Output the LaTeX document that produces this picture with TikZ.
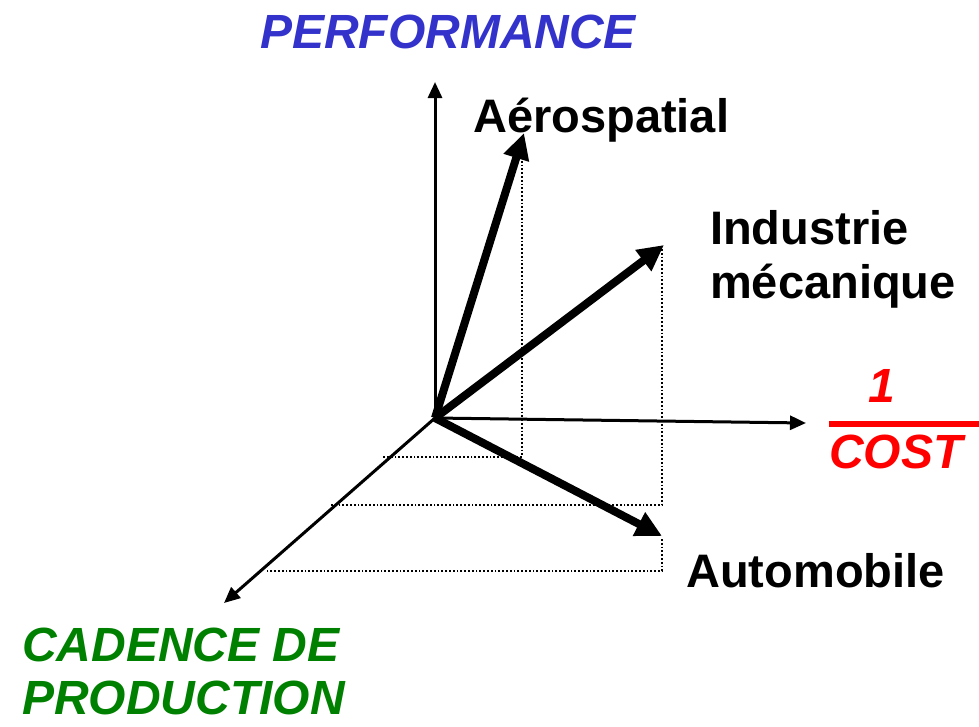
\documentclass[tikz,border=0pt]{standalone}
\usepackage{fontspec}
\setmainfont{Liberation Sans}
\usetikzlibrary{arrows.meta}
\definecolor{perfblue}{RGB}{51,51,204}
\definecolor{cadgreen}{RGB}{0,128,0}
\begin{document}
\begin{tikzpicture}[x=1pt,y=-1pt,
        axis/.style={line width=3pt,-{Triangle[length=16pt,width=14pt]}},
        sector/.style={line width=8pt,-{Triangle[length=26pt,width=25pt]}},
        proj/.style={line width=1.8pt,dash pattern=on 1.8pt off 2pt},
        lbl/.style={inner sep=0pt,font=\fontsize{47}{54}\selectfont\bfseries},
        axlbl/.style={lbl,font=\fontsize{48}{53}\selectfont\bfseries\itshape}]
        \useasboundingbox (0,0) rectangle (979,726);
        \coordinate (O) at (435,418);
        \coordinate (perf) at (435,82);
        \coordinate (cost) at (806,423);
        \coordinate (cad) at (224,603);
        \coordinate (aero) at (524,133);
        \coordinate (meca) at (664,245);
        \coordinate (auto) at (662,536);
        \coordinate (aeroP) at (522,157);
        \coordinate (aeroF) at (522,457);
        \coordinate (aeroC) at (383,457);
        \coordinate (mecaP) at (662,249);
        \coordinate (mecaF) at (662,505);
        \coordinate (mecaC) at (330,505);
        \coordinate (autoP) at (662,539);
        \coordinate (autoF) at (662,571);
        \coordinate (autoC) at (265,571);
        \coordinate (barL) at (829,424);
        \coordinate (barR) at (979,424);
        \draw[proj] (aeroP) -- (aeroF) -- (aeroC);
        \draw[proj] (mecaP) -- (mecaF) -- (mecaC);
        \draw[proj] (autoP) -- (autoF) -- (autoC);
        \draw[axis] (O) -- (perf);
        \draw[axis] (O) -- (cost);
        \draw[axis] (O) -- (cad);
        \draw[sector] (O) -- (aero);
        \draw[sector] (O) -- (meca);
        \draw[sector] (O) -- (auto);
        \node[axlbl,perfblue,anchor=base] (perflbl) at (448,48) {PERFORMANCE};
        \node[lbl,anchor=base west] (aerolbl) at (473,132) {Aérospatial};
        \node[lbl,anchor=north west,align=left] (mecalbl) at (710,210) {Industrie\\mécanique};
        \node[lbl,anchor=base west] (autolbl) at (686,587) {Automobile};
        \node[axlbl,red,anchor=base] (onelbl) at (882,402) {1};
        \draw[red,line width=6pt] (barL) -- (barR);
        \node[axlbl,red,anchor=base west] (costlbl) at (829,468) {COST};
        \node[axlbl,cadgreen,anchor=north west,align=left] (cadlbl) at (22,628) {CADENCE DE\\PRODUCTION};
\end{tikzpicture}
\end{document}
